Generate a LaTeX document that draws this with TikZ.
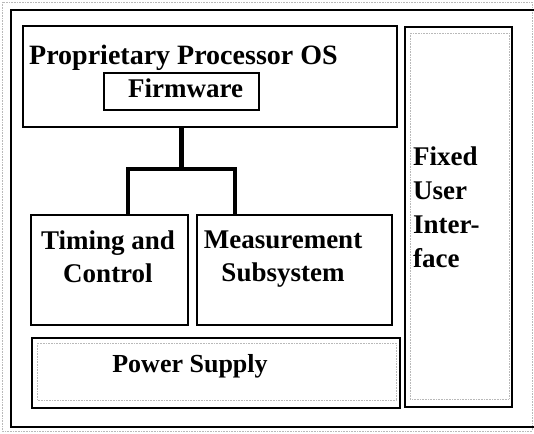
\documentclass[tikz,border=0pt]{standalone}
\usepackage{fontspec}
\setmainfont{Liberation Serif}

\begin{document}
\begin{tikzpicture}[x=1pt, y=-1pt,
  box/.style={draw, line width=1.7pt, inner sep=0pt, outer sep=0pt, anchor=north west},
  lbl/.style={font=\bfseries\fontsize{27}{33}\selectfont, inner sep=0pt},
  link/.style={line width=4.5pt},
  selframe/.style={draw=gray!55, densely dotted, line width=0.6pt}]
\useasboundingbox (0,0) rectangle (534,433);
\clip (0,0) rectangle (534,433);
\draw[selframe] (2,2) rectangle (532,431);
% frame and blocks
\node[box, minimum width=560pt, minimum height=417pt] (frame) at (11,10) {};
\node[box, minimum width=374pt, minimum height=101pt] (os) at (23,26) {};
\node[box, line width=2.2pt, minimum width=155pt, minimum height=37pt] (firmware) at (104,73) {};
\node[box, minimum width=107pt, minimum height=380pt] (fui) at (405,27) {};
\node[box, minimum width=157pt, minimum height=110pt] (timing) at (31,215) {};
\node[box, minimum width=195pt, minimum height=110pt] (meas) at (197,215) {};
\node[box, minimum width=368pt, minimum height=70pt] (power) at (32,338) {};
\draw[selframe] (410,33) rectangle (509,399);
\draw[selframe] (37,343) rectangle (396,400);
% labels
\node[lbl, font=\bfseries\fontsize{28}{33}\selectfont, anchor=base west] (ostxt) at (29,65) {Proprietary Processor OS};
\node[lbl, anchor=base] (fwtxt) at (185.5,97) {Firmware};
\node[lbl, align=center] (timingtxt) at (108,256.5) {Timing and\\Control};
\node[lbl, align=center] (meastxt) at (283,259.5) {Measurement\\Subsystem};
\node[lbl, font=\bfseries\fontsize{26}{33}\selectfont, anchor=base] (powertxt) at (190,372) {Power Supply};
\node[lbl, font=\bfseries\fontsize{27}{34}\selectfont, align=left, anchor=north west] (fuitxt) at (413,147) {Fixed\\User\\Inter-\\face};
% bus from the OS block down to the two subsystems
\coordinate (bus) at (firmware.south |- 0,169);
\draw[link] (firmware.south |- os.south) -- (bus);
\draw[link] ([xshift=18.5pt]timing.north) |- (bus) -| ([xshift=-59.5pt]meas.north);
\end{tikzpicture}
\end{document}
